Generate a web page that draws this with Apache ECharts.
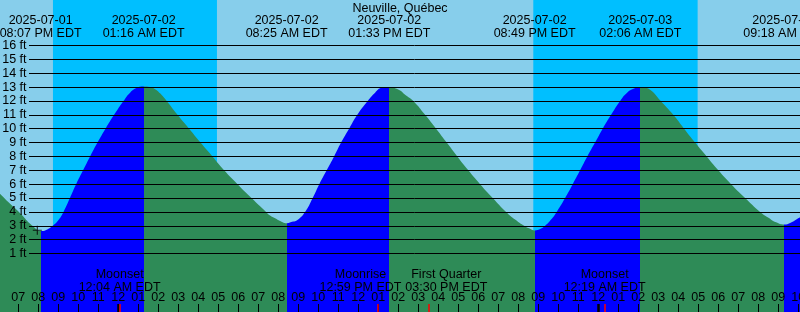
<!DOCTYPE html>
<html><head><meta charset="utf-8">
<script src="https://cdn.jsdelivr.net/npm/echarts@6/dist/echarts.min.js"></script>
<style>html,body{margin:0;padding:0;background:#87CEEB}#c{width:800px;height:312px}</style>
</head><body><div id="c"></div>
<script>
// ---------- data ----------
const chartTitle = 'Neuville, Québec';
const startDate = '2025-07-01';            // hours below are counted from this day's 00:00 EDT

// tide curve: time (hours since 2025-07-01 00:00 EDT) and height (ft)
const tideHours = [
  18.08, 18.59, 19.09, 19.59, 19.79, 19.96, 20.12,
  20.39, 20.72, 21.00, 21.26, 21.58, 21.89, 22.24, 22.59, 22.96, 23.36, 23.79, 24.26, 24.59, 24.94, 25.27,
  25.59, 25.84, 26.09, 26.42, 26.96, 27.54, 28.11, 28.71, 29.29, 29.96, 30.66, 31.39, 31.59, 31.84, 32.09, 32.42,
  32.74, 32.92, 33.34, 33.72, 34.05, 34.42, 34.79, 35.14, 35.54, 35.95, 36.47, 36.84, 37.17, 37.55,
  37.84, 38.09, 38.34, 38.75, 39.34, 39.89, 40.42, 40.95, 41.50, 42.09, 42.72, 43.39, 43.84, 44.29, 44.59, 44.82,
  45.09, 45.34, 45.64, 45.92, 46.34, 46.72, 47.09, 47.45, 47.84, 48.22, 48.64, 49.09, 49.44, 49.79, 50.10,
  50.39, 50.64, 50.89, 51.09, 51.75, 52.29, 52.84, 53.42, 54.00, 54.64, 55.34, 56.09, 56.49, 56.89, 57.30,
  57.59, 57.84, 58.09
];
const tideFeet = [
  5.31, 4.58, 3.91, 3.14, 2.90, 2.70, 2.62,
  2.70, 3.00, 3.40, 4.00, 5.00, 6.00, 7.00, 8.00, 9.00, 10.00, 11.00, 12.00, 12.60, 12.95, 13.05,
  13.00, 12.85, 12.55, 12.00, 11.00, 10.00, 9.00, 8.00, 7.00, 6.00, 5.00, 4.00, 3.74, 3.55, 3.35, 3.19,
  3.30, 3.38, 4.00, 5.00, 6.00, 7.00, 8.00, 9.00, 10.00, 11.00, 12.00, 12.60, 12.95, 13.00,
  12.92, 12.75, 12.45, 12.00, 11.00, 10.00, 9.00, 8.00, 7.00, 6.00, 5.00, 4.00, 3.45, 3.00, 2.78, 2.66,
  2.76, 3.00, 3.45, 4.00, 5.00, 6.00, 7.00, 8.00, 9.00, 10.00, 11.00, 12.00, 12.60, 12.90, 13.00,
  12.95, 12.75, 12.40, 12.05, 11.00, 10.00, 9.00, 8.00, 7.00, 6.00, 5.00, 4.00, 3.60, 3.25, 3.09,
  3.20, 3.40, 3.62
];

// high / low tide labels
const extremeDates = ['2025-07-01', '2025-07-02', '2025-07-02', '2025-07-02', '2025-07-02', '2025-07-03', '2025-07-03'];
const extremeTimes = ['08:07 PM EDT', '01:16 AM EDT', '08:25 AM EDT', '01:33 PM EDT', '08:49 PM EDT', '02:06 AM EDT', '09:18 AM EDT'];
const extremeKinds = ['low', 'high', 'low', 'high', 'low', 'high', 'low'];

// moon events
const eventNames = ['Moonset', 'Moonrise', 'First Quarter', 'Moonset'];
const eventDates = ['2025-07-02', '2025-07-02', '2025-07-02', '2025-07-03'];
const eventTimes = ['12:04 AM EDT', '12:59 PM EDT', '03:30 PM EDT', '12:19 AM EDT'];

// night (sunset -> sunrise)
const sunsetDates = ['2025-07-01', '2025-07-02'];
const sunsetTimes = ['08:44 PM', '08:45 PM'];
const sunriseDates = ['2025-07-02', '2025-07-03'];
const sunriseTimes = ['04:56 AM', '04:58 AM'];

// height grid lines (ft)
const gridFeet = [1, 2, 3, 4, 5, 6, 7, 8, 9, 10, 11, 12, 13, 14, 15, 16];

// "now" marker (hours, ft)
const currentMark = [19.95, 2.68];

// ---------- layout / style ----------
const axisMinHours = 18.085, axisMaxHours = 58.085;
const feetMin = -3.219, feetMax = 19.281;
const labelNudge = [0, -17.5, 18, 0];   // px shift applied to event labels to avoid overlap
const FONT = "'Liberation Sans', Arial, sans-serif";
const FS = 12.5;
const SKY = '#87CEEB', NIGHT = '#00BFFF', FLOOD = '#0000FF', EBB = '#2E8B57';

function toHours(date, time) {
  const day = Number(date.slice(8, 10)) - Number(startDate.slice(8, 10));
  const parts = time.split(' ');
  const hm = parts[0].split(':').map(Number);
  return day * 24 + (hm[0] % 12) + (parts[1] === 'PM' ? 12 : 0) + hm[1] / 60;
}
const extremeHours = extremeDates.map((d, i) => toHours(d, extremeTimes[i]));
const eventHours = eventDates.map((d, i) => toHours(d, eventTimes[i]));
const nights = sunsetDates.map((d, i) => [
  { xAxis: toHours(d, sunsetTimes[i]) },
  { xAxis: toHours(sunriseDates[i], sunriseTimes[i]) }
]);
const hourTicks = [];
for (let h = Math.ceil(axisMinHours); h <= axisMaxHours; h++) hourTicks.push(h);
const midnightTicks = hourTicks.filter(h => h % 24 === 0);

function nearestIndex(arr, v) {
  let best = 0;
  arr.forEach((a, i) => { if (Math.abs(a - v) < Math.abs(arr[best] - v)) best = i; });
  return best;
}

// flood (rising) / ebb (falling) colouring between extremes
const pieces = [];
pieces.push({ lt: extremeHours[0], color: extremeKinds[0] === 'low' ? EBB : FLOOD });
for (let i = 0; i < extremeHours.length - 1; i++) {
  pieces.push({ gte: extremeHours[i], lt: extremeHours[i + 1], color: extremeKinds[i] === 'low' ? FLOOD : EBB });
}
const lastK = extremeKinds[extremeKinds.length - 1];
pieces.push({ gte: extremeHours[extremeHours.length - 1], color: lastK === 'low' ? FLOOD : EBB });

const eventRich = {};
labelNudge.forEach((s, i) => {
  eventRich['e' + i] = {
    fontSize: FS, lineHeight: 13, color: '#000', fontFamily: FONT,
    padding: [0, s < 0 ? -2 * s : 0, 0, s > 0 ? 2 * s : 0]
  };
});

const xBase = {
  type: 'value', gridIndex: 0, min: axisMinHours, max: axisMaxHours, z: 10,
  splitLine: { show: false }, axisLine: { show: false, onZero: false }
};

const chart = echarts.init(document.getElementById('c'), null, { renderer: 'canvas' });
chart.setOption({
  animation: false,
  backgroundColor: SKY,
  textStyle: { fontFamily: FONT },
  title: {
    text: chartTitle, left: 'center', top: 2.5, padding: 0,
    textStyle: { fontSize: FS, fontWeight: 'normal', color: '#000', fontFamily: FONT }
  },
  grid: [
    { left: 0, right: 0, top: 0, bottom: 0, outerBoundsMode: 'none', containLabel: false },
    { left: 29, right: 0, top: 0, bottom: 0, outerBoundsMode: 'none', containLabel: false }
  ],
  xAxis: [
    Object.assign({}, xBase, {
      position: 'bottom',
      axisTick: { show: true, inside: true, length: 8, customValues: hourTicks, lineStyle: { color: '#000', width: 1 } },
      axisLabel: {
        show: true, inside: true, margin: 7.5, customValues: hourTicks, color: '#000',
        fontSize: FS, lineHeight: 13, fontFamily: FONT,
        formatter: v => String((Math.round(v) % 12) || 12).padStart(2, '0')
      }
    }),
    Object.assign({}, xBase, {
      position: 'top',
      axisTick: { show: false },
      axisLabel: {
        show: true, inside: true, margin: 14.8, customValues: extremeHours, color: '#000',
        fontSize: FS, lineHeight: 12.3, fontFamily: FONT,
        formatter: v => { const i = nearestIndex(extremeHours, v); return extremeDates[i] + '\n' + extremeTimes[i]; }
      }
    }),
    Object.assign({}, xBase, {
      position: 'bottom',
      axisTick: { show: true, inside: true, length: 8, customValues: midnightTicks, lineStyle: { color: '#000', width: 2.5 } },
      axisLabel: { show: false }
    }),
    Object.assign({}, xBase, {
      position: 'bottom',
      axisTick: { show: true, inside: true, length: 8, customValues: eventHours, lineStyle: { color: '#FF0000', width: 1.5 } },
      axisLabel: {
        show: true, inside: true, margin: 17.5, customValues: eventHours,
        formatter: v => { const i = nearestIndex(eventHours, v); return '{e' + i + '|' + eventNames[i] + '}\n{e' + i + '|' + eventTimes[i] + '}'; },
        rich: eventRich
      }
    }),
    { type: 'value', gridIndex: 1, min: 0, max: 1, show: false }
  ],
  yAxis: [
    { type: 'value', gridIndex: 0, min: feetMin, max: feetMax, show: false },
    { type: 'value', gridIndex: 1, min: feetMin, max: feetMax, show: false }
  ],
  visualMap: {
    type: 'piecewise', show: false, dimension: 0, seriesIndex: 1, pieces: pieces
  },
  series: [
    {
      type: 'line', xAxisIndex: 0, yAxisIndex: 0, data: [], silent: true,
      markArea: { silent: true, itemStyle: { color: NIGHT, opacity: 1 }, data: nights }
    },
    {
      type: 'line', xAxisIndex: 0, yAxisIndex: 0, silent: true, z: 2,
      data: tideHours.map((h, i) => [h, tideFeet[i]]),
      showSymbol: false, smooth: 0.5,
      lineStyle: { width: 0 },
      areaStyle: { opacity: 1, origin: 'start' }
    },
    {
      type: 'scatter', xAxisIndex: 0, yAxisIndex: 0, silent: true, z: 6,
      data: [currentMark],
      symbol: 'path://M3.5,0h1v8h-1zM0,3.5h8v1h-8z', symbolSize: 9,
      itemStyle: { color: '#000' }
    },
    {
      type: 'line', xAxisIndex: 4, yAxisIndex: 1, data: [], silent: true,
      markLine: {
        silent: true, symbol: ['none', 'none'], animation: false,
        lineStyle: { color: '#000', width: 1, type: 'solid' },
        label: {
          show: true, position: 'start', distance: 2.5, color: '#000', fontSize: FS, fontFamily: FONT,
          formatter: p => p.value + ' ft'
        },
        emphasis: { disabled: true },
        data: gridFeet.map(v => ({ yAxis: v }))
      }
    }
  ]
});
</script>
</body></html>
